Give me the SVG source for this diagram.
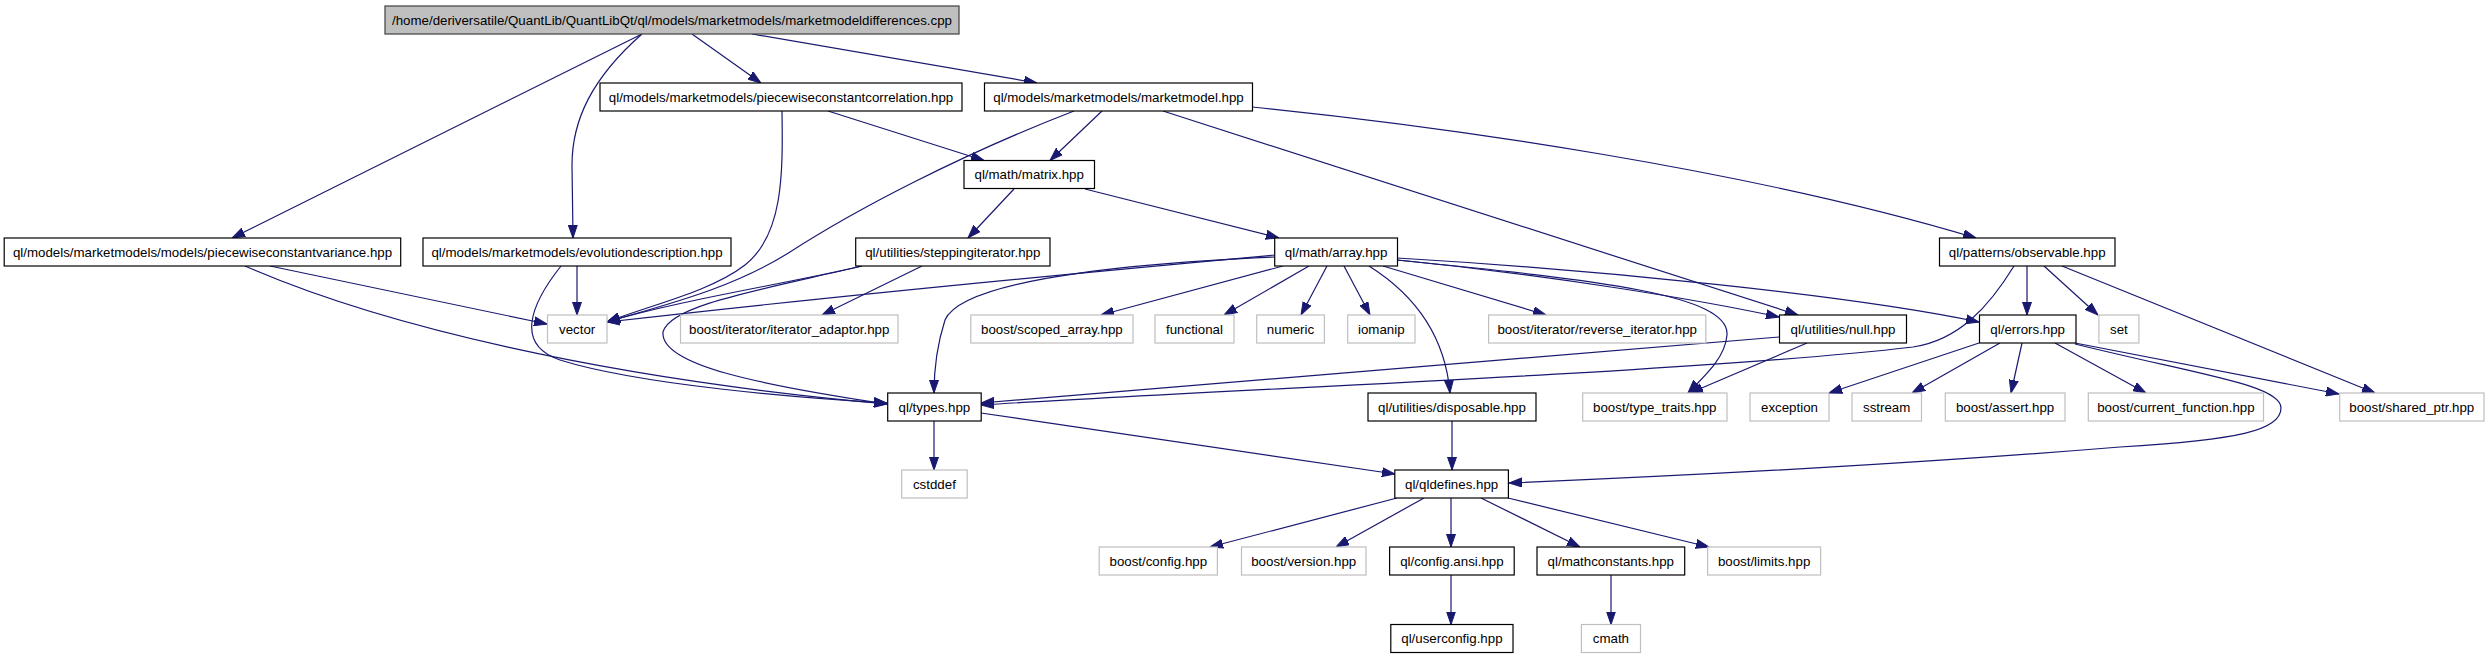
<svg xmlns="http://www.w3.org/2000/svg" width="2487" height="659" viewBox="0 0 2487 659">
<style>
rect{stroke-width:1.2}
.doc rect{fill:#fff;stroke:#000}
.ext rect{fill:#fff;stroke:#bfbfbf}
.root rect{fill:#bfbfbf;stroke:#404040}
text{font-family:"Liberation Sans",Arial,Helvetica,sans-serif;font-size:13.3px;text-anchor:middle;fill:#000}
#edges path{fill:none;stroke:#191970;stroke-width:1.2;marker-end:url(#ah)}
</style>
<defs>
<marker id="ah" markerUnits="userSpaceOnUse" markerWidth="13" markerHeight="10" refX="13" refY="5" orient="auto">
<path d="M0,0.5 L13,5 L0,9.5 Z" fill="#191970" stroke="#191970" stroke-width="1"/>
</marker>
</defs>
<rect width="2487" height="659" fill="#fff"/>
<g id="edges">
<path d="M642,34 L232,238"/>
<path d="M642,34 C592,78 572,120 572,165 L573,238"/>
<path d="M692,34 L761,83"/>
<path d="M752,34 L1037,83"/>
<path d="M828,111 L984,160.5"/>
<path d="M782,111 C783,175 783,235 745,265 C710,292 650,305 607,322"/>
<path d="M1102,111 L1050,160.5"/>
<path d="M1074,111 C960,155 855,210 790,252 C730,290 660,306 607,322"/>
<path d="M1163,111 L1798,315"/>
<path d="M1252,107 C1450,127 1750,170 1976,238"/>
<path d="M1014,189 L968,238"/>
<path d="M1085,189 L1279,238"/>
<path d="M270,266 L547,324"/>
<path d="M245,266 C380,325 600,378 887,404"/>
<path d="M577,266 L577,315"/>
<path d="M561,266 C530,305 515,345 560,360 C640,385 800,398 887,403"/>
<path d="M922,266 L822,315"/>
<path d="M862,266 C780,285 680,300 607,322"/>
<path d="M862,266 C760,290 670,305 663,332 C660,365 760,385 887,404"/>
<path d="M1275,255 C1000,280 800,300 607,322"/>
<path d="M1275,257 C1090,265 960,285 945,320 C937,345 934,370 934,393"/>
<path d="M1283,266 L1101,315"/>
<path d="M1309,266 L1224,315"/>
<path d="M1327,266 L1301,315"/>
<path d="M1344,266 L1370,315"/>
<path d="M1369,266 C1415,295 1445,335 1450,393"/>
<path d="M1383,266 L1546,315"/>
<path d="M1397,260 C1550,275 1700,300 1779,317"/>
<path d="M1397,258 C1600,270 1850,295 1979,322"/>
<path d="M1397,260 C1600,280 1730,295 1727,335 C1725,360 1700,380 1688,393"/>
<path d="M1779,337 L981,403"/>
<path d="M1807,343 L1690,393"/>
<path d="M2014,266 C1990,305 1960,340 1913,347 C1700,372 1250,388 981,405"/>
<path d="M2027,266 L2027,315"/>
<path d="M2044,266 L2098,315"/>
<path d="M2062,266 L2375,393"/>
<path d="M1979,343 L1829,393"/>
<path d="M2000,343 L1912,393"/>
<path d="M2022,343 L2011,393"/>
<path d="M2055,343 L2146,393"/>
<path d="M2075,343 L2339,394"/>
<path d="M2075,344 C2200,375 2281,385 2281,408 C2281,430 2240,440 2120,447 C1900,465 1700,475 1509,483"/>
<path d="M934,421 L934,470"/>
<path d="M981,413 L1395,474"/>
<path d="M1452,421 L1452,470"/>
<path d="M1397,498 L1210,547"/>
<path d="M1424,498 L1336,547"/>
<path d="M1451,498 L1451,547"/>
<path d="M1481,498 L1580,547"/>
<path d="M1508,498 L1709,547"/>
<path d="M1451,575 L1451,624.5"/>
<path d="M1611,575 L1611,624.5"/>
</g>
<g id="n_root" class="root"><rect x="385" y="6" width="574" height="28"/><text x="672" y="24.7">/home/deriversatile/QuantLib/QuantLibQt/ql/models/marketmodels/marketmodeldifferences.cpp</text></g>
<g id="n_corr" class="doc"><rect x="600" y="83" width="362" height="28"/><text x="781" y="101.7">ql/models/marketmodels/piecewiseconstantcorrelation.hpp</text></g>
<g id="n_marketmodel" class="doc"><rect x="984.5" y="83" width="268" height="28"/><text x="1118.5" y="101.7">ql/models/marketmodels/marketmodel.hpp</text></g>
<g id="n_matrix" class="doc"><rect x="964" y="160.5" width="130.5" height="28"/><text x="1029.2" y="179.2">ql/math/matrix.hpp</text></g>
<g id="n_pcv" class="doc"><rect x="4.2" y="238" width="396.5" height="28"/><text x="202.5" y="256.7">ql/models/marketmodels/models/piecewiseconstantvariance.hpp</text></g>
<g id="n_evol" class="doc"><rect x="423" y="238" width="308" height="28"/><text x="577" y="256.7">ql/models/marketmodels/evolutiondescription.hpp</text></g>
<g id="n_stepping" class="doc"><rect x="855.7" y="238" width="194.3" height="28"/><text x="952.8" y="256.7">ql/utilities/steppingiterator.hpp</text></g>
<g id="n_array" class="doc"><rect x="1274.7" y="238" width="122.8" height="28"/><text x="1336.1" y="256.7">ql/math/array.hpp</text></g>
<g id="n_observable" class="doc"><rect x="1939.5" y="238" width="175.5" height="28"/><text x="2027.2" y="256.7">ql/patterns/observable.hpp</text></g>
<g id="n_vector" class="ext"><rect x="547.5" y="315" width="59.5" height="28"/><text x="577.2" y="333.7">vector</text></g>
<g id="n_iteradaptor" class="ext"><rect x="680.5" y="315" width="217.5" height="28"/><text x="789.2" y="333.7">boost/iterator/iterator_adaptor.hpp</text></g>
<g id="n_scoped" class="ext"><rect x="970.8" y="315" width="162.2" height="28"/><text x="1051.9" y="333.7">boost/scoped_array.hpp</text></g>
<g id="n_functional" class="ext"><rect x="1155" y="315" width="79" height="28"/><text x="1194.5" y="333.7">functional</text></g>
<g id="n_numeric" class="ext"><rect x="1256.7" y="315" width="67.7" height="28"/><text x="1290.5" y="333.7">numeric</text></g>
<g id="n_iomanip" class="ext"><rect x="1347.7" y="315" width="67.3" height="28"/><text x="1381.3" y="333.7">iomanip</text></g>
<g id="n_reverse" class="ext"><rect x="1488.6" y="315" width="217.2" height="28"/><text x="1597.2" y="333.7">boost/iterator/reverse_iterator.hpp</text></g>
<g id="n_null" class="doc"><rect x="1779.5" y="315" width="127" height="28"/><text x="1843" y="333.7">ql/utilities/null.hpp</text></g>
<g id="n_errors" class="doc"><rect x="1979.5" y="315" width="96.5" height="28"/><text x="2027.7" y="333.7">ql/errors.hpp</text></g>
<g id="n_set" class="ext"><rect x="2098.9" y="315" width="40" height="28"/><text x="2118.9" y="333.7">set</text></g>
<g id="n_types" class="doc"><rect x="887.7" y="393" width="93.5" height="28"/><text x="934.4" y="411.7">ql/types.hpp</text></g>
<g id="n_disposable" class="doc"><rect x="1368" y="393" width="168" height="28"/><text x="1452" y="411.7">ql/utilities/disposable.hpp</text></g>
<g id="n_typetraits" class="ext"><rect x="1582.7" y="393" width="144.3" height="28"/><text x="1654.8" y="411.7">boost/type_traits.hpp</text></g>
<g id="n_exception" class="ext"><rect x="1750" y="393" width="79" height="28"/><text x="1789.5" y="411.7">exception</text></g>
<g id="n_sstream" class="ext"><rect x="1852" y="393" width="69.5" height="28"/><text x="1886.7" y="411.7">sstream</text></g>
<g id="n_assert" class="ext"><rect x="1945.3" y="393" width="119.7" height="28"/><text x="2005.1" y="411.7">boost/assert.hpp</text></g>
<g id="n_curfunc" class="ext"><rect x="2088.3" y="393" width="175.2" height="28"/><text x="2175.9" y="411.7">boost/current_function.hpp</text></g>
<g id="n_sharedptr" class="ext"><rect x="2339.7" y="393" width="144.3" height="28"/><text x="2411.8" y="411.7">boost/shared_ptr.hpp</text></g>
<g id="n_cstddef" class="ext"><rect x="901.7" y="470" width="65.5" height="28"/><text x="934.4" y="488.7">cstddef</text></g>
<g id="n_qldefines" class="doc"><rect x="1394.8" y="470" width="113.6" height="28"/><text x="1451.6" y="488.7">ql/qldefines.hpp</text></g>
<g id="n_bconfig" class="ext"><rect x="1099.2" y="547" width="118.2" height="28"/><text x="1158.3" y="565.7">boost/config.hpp</text></g>
<g id="n_bversion" class="ext"><rect x="1241.5" y="547" width="124.5" height="28"/><text x="1303.7" y="565.7">boost/version.hpp</text></g>
<g id="n_configansi" class="doc"><rect x="1389.6" y="547" width="124.6" height="28"/><text x="1451.9" y="565.7">ql/config.ansi.hpp</text></g>
<g id="n_mathconst" class="doc"><rect x="1537" y="547" width="147.7" height="28"/><text x="1610.8" y="565.7">ql/mathconstants.hpp</text></g>
<g id="n_blimits" class="ext"><rect x="1707.6" y="547" width="113" height="28"/><text x="1764.1" y="565.7">boost/limits.hpp</text></g>
<g id="n_userconfig" class="doc"><rect x="1390.8" y="624.5" width="122.2" height="28"/><text x="1451.9" y="643.2">ql/userconfig.hpp</text></g>
<g id="n_cmath" class="ext"><rect x="1581.4" y="624.5" width="59.1" height="28"/><text x="1610.9" y="643.2">cmath</text></g>
</svg>
